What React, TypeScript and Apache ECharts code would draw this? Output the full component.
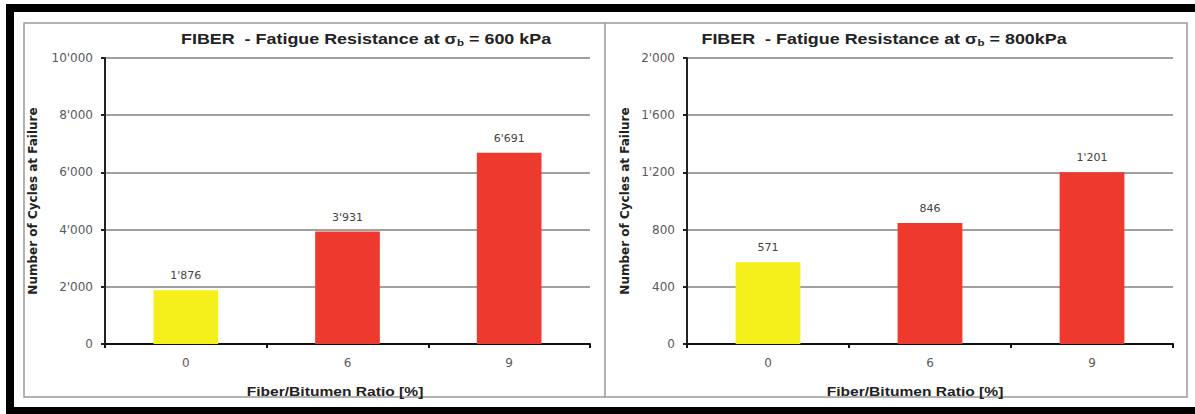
import React, { useEffect, useRef } from "react";
import * as echarts from "echarts";

const categories = ["0", "6", "9"];
const cycles600 = [1876, 3931, 6691];
const cycles800 = [571, 846, 1201];
const barColors = ["#f5ef1c", "#ee3a2e", "#ee3a2e"];
const yAxis600 = { min: 0, max: 10000, interval: 2000 };
const yAxis800 = { min: 0, max: 2000, interval: 400 };
const titles = [
  { pre: "FIBER  - Fatigue Resistance at σ", sub: "b", post: " = 600 kPa" },
  { pre: "FIBER  - Fatigue Resistance at σ", sub: "b", post: " = 800kPa" },
];
const xAxisName = "Fiber/Bitumen Ratio [%]";
const yAxisName = "Number of Cycles at Failure";

const fmt = (v: number) => String(v).replace(/\B(?=(\d{3})+(?!\d))/g, "'");
const SANS = "Liberation Sans, Arial, sans-serif";
const WIDE = "DejaVu Sans, sans-serif";

export default function App() {
  const ref = useRef<HTMLDivElement>(null);
  useEffect(() => {
    document.body.style.margin = "0";
    const chart = echarts.init(ref.current!, null, { renderer: "svg" });
    const mkX = (gi: number) => ({
      type: "category",
      gridIndex: gi,
      data: categories,
      axisLine: { lineStyle: { color: "#111", width: 2 } },
      axisTick: { show: true, length: 4, lineStyle: { color: "#111", width: 2 } },
      axisLabel: { fontFamily: WIDE, fontSize: 12, color: "#5a5a5a", margin: 13 },
    });
    const mkY = (gi: number, cfg: any, gap: number) => ({
      type: "value",
      gridIndex: gi,
      min: cfg.min,
      max: cfg.max,
      interval: cfg.interval,
      name: yAxisName,
      nameLocation: "middle",
      nameRotate: 90,
      nameGap: gap,
      nameTextStyle: { fontFamily: WIDE, fontWeight: "bold", fontSize: 12, color: "#222" },
      axisLine: { show: true, lineStyle: { color: "#222", width: 2 } },
      axisTick: { show: true, length: 4, lineStyle: { color: "#222", width: 2 } },
      axisLabel: { fontFamily: WIDE, fontSize: 12, color: "#5a5a5a", margin: 12, formatter: (v: number) => fmt(v) },
      splitLine: { show: true, lineStyle: { color: "#808080", width: 1.5 } },
    });
    const mkSeries = (gi: number, vals: number[]) => ({
      type: "bar",
      xAxisIndex: gi,
      yAxisIndex: gi,
      barWidth: "40%",
      data: vals.map((v, i) => ({ value: v, itemStyle: { color: barColors[i] } })),
      label: {
        show: true,
        position: "top",
        distance: 9,
        fontFamily: WIDE,
        fontSize: 11,
        color: "#444",
        formatter: (p: any) => fmt(p.value),
      },
    });
    const rich = {
      a: { fontFamily: SANS, fontWeight: "bold", fontSize: 14, fill: "#222", color: "#222" },
      s: { fontFamily: SANS, fontWeight: "bold", fontSize: 9, fill: "#222", color: "#222", padding: [8, 0, 0, 0] },
    };
    const titleText = (t: any, x: number) => ({
      type: "text",
      x,
      y: 39,
      scaleX: 1.28,
      silent: true,
      style: {
        text: `{a|${t.pre}}{s|${t.sub}}{a|${t.post}}`,
        rich,
        align: "center",
        verticalAlign: "middle",
      },
    });
    const xName = (x: number) => ({
      type: "text",
      x,
      y: 392,
      scaleX: 1.3,
      silent: true,
      style: {
        text: xAxisName,
        font: `bold 12px ${SANS}`,
        fill: "#222",
        align: "center",
        verticalAlign: "middle",
      },
    });
    chart.setOption({
      animation: false,
      backgroundColor: "#fff",
      grid: [
        { left: 105, right: 605, top: 58, bottom: 70 },
        { left: 687, right: 22, top: 58, bottom: 70 },
      ],
      xAxis: [mkX(0), mkX(1)],
      yAxis: [mkY(0, yAxis600, 66), mkY(1, yAxis800, 56)],
      series: [mkSeries(0, cycles600), mkSeries(1, cycles800)],
      graphic: [
        { type: "rect", shape: { x: 6, y: 4, width: 1189, height: 8 }, style: { fill: "#000" }, silent: true },
        { type: "rect", shape: { x: 6, y: 4, width: 8, height: 410 }, style: { fill: "#000" }, silent: true },
        { type: "rect", shape: { x: 6, y: 407, width: 1189, height: 7 }, style: { fill: "#000" }, silent: true },
        { type: "rect", shape: { x: 24, y: 23, width: 1163, height: 374 }, style: { fill: "none", stroke: "#999", lineWidth: 1.5 }, silent: true },
        { type: "line", shape: { x1: 605, y1: 23, x2: 605, y2: 397 }, style: { stroke: "#999", lineWidth: 1.5 }, silent: true },
        titleText(titles[0], 366),
        titleText(titles[1], 884),
        xName(335),
        xName(915),
      ],
    });
    return () => chart.dispose();
  }, []);
  return <div ref={ref} style={{ width: 1195, height: 414 }} />;
}
